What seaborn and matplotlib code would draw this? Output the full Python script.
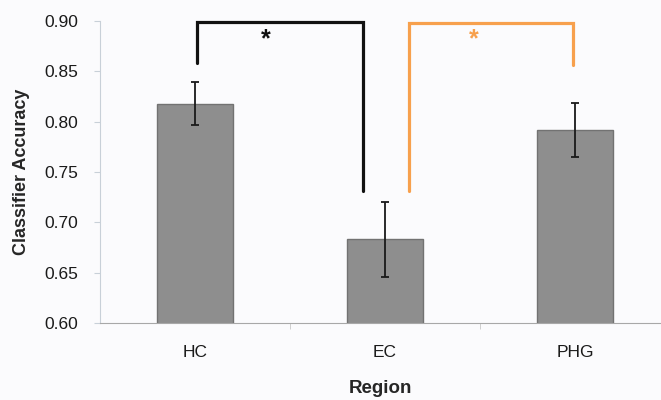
import matplotlib
matplotlib.use('Agg')
import matplotlib.pyplot as plt
import seaborn as sns
import numpy as np
import pandas as pd

regions = ['HC', 'EC', 'PHG']
accuracy = [0.818, 0.683, 0.792]
sem = [0.021, 0.037, 0.027]

# significance brackets: (x left, x right, y left leg end, y right leg end, y top, colour)
brackets = [(0.01, 0.884, 0.858, 0.731, 0.899, '#111111'),
            (1.126, 1.99, 0.731, 0.856, 0.898, '#f7a04d')]
star_x = [0.375, 1.465]

sns.set_style('white')
plt.rcParams['font.family'] = ['Liberation Sans', 'DejaVu Sans']

df = pd.DataFrame({'Region': regions, 'Accuracy': accuracy})

fig = plt.figure(figsize=(6.61, 4.0), dpi=100)
fig.patch.set_facecolor('#fbfbfd')
ax = fig.add_axes([100 / 661, 1 - 323 / 400, 1 - 100 / 661, (323 - 21) / 400])
ax.set_facecolor('#fbfbfd')

sns.barplot(data=df, x='Region', y='Accuracy', color='#8e8e8e', width=0.40,
            edgecolor='#727272', linewidth=1.0, saturation=1, ax=ax)
ax.errorbar(np.arange(len(regions)), accuracy, yerr=sem, fmt='none',
            ecolor='#1a1a1a', elinewidth=1.3, capsize=2.8, capthick=1.3)

for (x0, x1, y0, y1, yt, c), sx in zip(brackets, star_x):
    ax.plot([x0, x0, x1, x1], [y0, yt, yt, y1], color=c, lw=2.3,
            clip_on=False, solid_joinstyle='miter')
    ax.text(sx, 0.894, '*', color=c, fontsize=18,
            fontweight='bold', ha='center', va='top')

ax.set_ylim(0.60, 0.90)
ax.set_xlim(-0.5, 2.453)
ticks = np.arange(0.60, 0.901, 0.05)
ax.set_yticks(ticks)
ax.set_yticklabels([f'{v:.2f}' for v in ticks], fontsize=12.5, color='#1a1a1a')
ax.tick_params(axis='y', length=4, color='#c8d0d8', left=True, pad=12)
ax.set_xticks([0.5, 1.5], minor=True)
ax.tick_params(axis='x', which='minor', length=4, color='#c8c8c8', bottom=True)
ax.tick_params(axis='x', which='major', length=0, labelsize=12.5, pad=16,
               labelcolor='#1a1a1a')

ax.set_ylabel('Classifier Accuracy', fontsize=13, fontweight='bold', labelpad=10)
ax.set_xlabel('Region', fontsize=13.5, fontweight='bold', labelpad=14)

for s in ['top', 'right']:
    ax.spines[s].set_visible(False)
ax.spines['left'].set_color('#c8d0d8')
ax.spines['bottom'].set_color('#a8a8a8')

fig.savefig('out.png', dpi=100, facecolor=fig.get_facecolor())
